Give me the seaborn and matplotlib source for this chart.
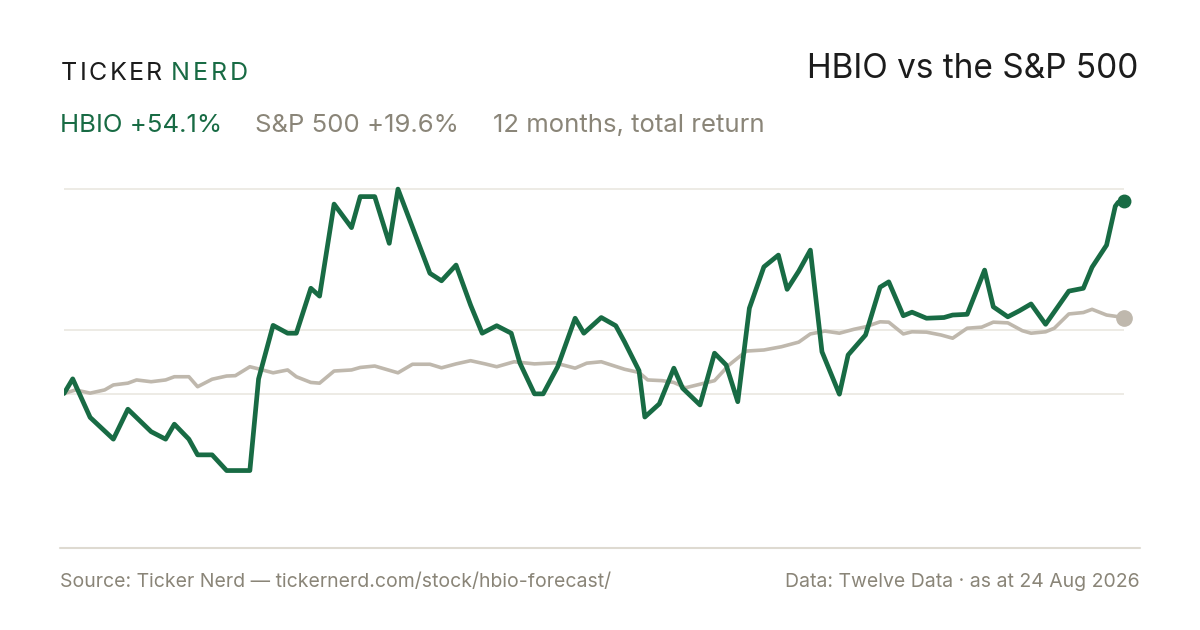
import pandas as pd
import matplotlib
matplotlib.use('Agg')
import matplotlib.pyplot as plt
from matplotlib.lines import Line2D
import seaborn as sns

# 12 month total return (%); x = days since start
start = pd.Timestamp('2025-08-24')

hbio_days = [0, 3, 9, 17, 22, 30, 35, 38, 43, 46, 51, 56, 64, 67, 72, 77, 80, 85, 88, 93,
             99, 102, 107, 112, 115, 126, 130, 135, 140, 144, 149, 154, 157, 162, 165, 170,
             176, 179, 185, 190, 193, 198, 200, 205, 210, 213, 219, 224, 228, 232, 236, 241,
             246, 249, 253, 257, 261, 267, 270, 276, 281, 284, 289, 292, 297, 303, 306, 311,
             317, 320, 325, 329, 333, 338, 346, 351, 354, 359, 362, 363, 365]
hbio_ret = [0.0, 4.1, -6.7, -12.8, -4.4, -10.7, -12.8, -8.6, -12.8, -17.2, -17.2, -21.6, -21.6,
            4.1, 19.1, 16.9, 16.9, 29.5, 27.3, 53.1, 46.5, 55.2, 55.2, 42.1, 57.3, 33.7, 31.6,
            36.0, 24.8, 16.9, 19.0, 16.9, 8.5, -0.1, -0.1, 7.5, 21.1, 16.9, 21.3, 19.0, 14.5,
            6.4, -6.6, -2.9, 7.1, 1.5, -3.2, 11.3, 8.0, -2.3, 23.9, 35.5, 38.8, 29.2, 34.3,
            40.2, 11.7, -0.2, 10.8, 16.4, 29.8, 31.3, 21.8, 22.8, 21.1, 21.3, 22.0, 22.2, 34.6,
            24.3, 21.5, 23.2, 25.1, 19.4, 28.7, 29.5, 35.4, 41.6, 52.5, 53.6, 54.1]

spx_days = [0, 4, 9, 14, 17, 22, 25, 30, 35, 38, 43, 46, 51, 56, 59, 64, 67, 72, 77, 80, 85,
            88, 93, 99, 102, 107, 115, 120, 126, 130, 135, 140, 145, 149, 155, 162, 169, 176,
            180, 185, 193, 198, 201, 206, 210, 214, 219, 224, 229, 235, 241, 247, 253, 257,
            262, 267, 272, 276, 281, 284, 289, 292, 297, 302, 306, 311, 316, 320, 325, 330,
            333, 338, 341, 346, 351, 354, 359, 365]
spx_ret = [0.0, 1.0, 0.1, 1.0, 2.4, 2.9, 3.8, 3.3, 3.8, 4.7, 4.7, 1.9, 4.0, 4.9, 5.0, 7.5,
           6.9, 5.8, 6.6, 4.7, 3.1, 2.9, 6.3, 6.6, 7.3, 7.7, 5.8, 8.2, 8.2, 7.2, 8.3, 9.2, 8.3,
           7.5, 8.9, 8.3, 8.6, 7.1, 8.5, 8.9, 6.8, 5.9, 3.8, 3.6, 3.1, 1.6, 2.6, 3.6, 8.0,
           11.9, 12.2, 13.1, 14.4, 16.7, 17.5, 16.9, 18.0, 18.7, 20.1, 20.0, 16.7, 17.3, 17.2,
           16.4, 15.5, 18.3, 18.6, 20.0, 19.8, 17.6, 16.9, 17.3, 18.3, 22.3, 22.7, 23.6, 22.0,
           21.3]

hbio_label = 'HBIO +54.1%'
spx_label = 'S&P 500 +19.6%'
period_label = '12 months, total return'
title = 'HBIO vs the S&P 500'
source = 'Source: Ticker Nerd \u2014 tickernerd.com/stock/hbio-forecast/'
data_note = 'Data: Twelve Data \u00b7 as at 24 Aug 2026'

GREEN = '#186b44'
TAUPE = '#bfb8ad'
TAUPE_TXT = '#8a8578'
GRID = '#ece9e3'
INK = '#1c1c1c'

df_hbio = pd.DataFrame({'date': start + pd.to_timedelta(hbio_days, unit='D'), 'ret': hbio_ret})
df_spx = pd.DataFrame({'date': start + pd.to_timedelta(spx_days, unit='D'), 'ret': spx_ret})

sns.set_theme(style='white')
plt.rcParams['font.family'] = ['Inter', 'DejaVu Sans']

W, H = 1200, 630
fig = plt.figure(figsize=(12, 6.3), dpi=100)
fig.patch.set_facecolor('white')


def fx(x):
    return x / W


def fy(y):
    return 1 - y / H


# axes placed in pixels: x 64..1124, y 180..548
ax = fig.add_axes([fx(64), fy(548), fx(1124) - fx(64), (548 - 180) / H])
ax.set_facecolor('none')

# gridlines at max, mid and zero
hi, lo = max(hbio_ret), min(hbio_ret)
for v in [hi, (hi + lo) / 2, 0]:
    ax.axhline(v, color=GRID, lw=1.3, zorder=0)

sns.lineplot(data=df_spx, x='date', y='ret', color=TAUPE, lw=2.6, ax=ax, zorder=2)
sns.lineplot(data=df_hbio, x='date', y='ret', color=GREEN, lw=3.4, ax=ax, zorder=3)
ax.plot(df_spx['date'].iloc[-1], df_spx['ret'].iloc[-1], 'o', color=TAUPE, ms=11, zorder=4, clip_on=False)
ax.plot(df_hbio['date'].iloc[-1], df_hbio['ret'].iloc[-1], 'o', color=GREEN, ms=9, zorder=5, clip_on=False)

ax.set_xlim(df_hbio['date'].iloc[0], df_hbio['date'].iloc[-1])
px_per = 3.567
ax.set_ylim((393.5 - 548) / px_per, (393.5 - 180) / px_per)
ax.set_xticks([])
ax.set_yticks([])
ax.set_xlabel('')
ax.set_ylabel('')
sns.despine(ax=ax, left=True, bottom=True)

# bottom rule
fig.add_artist(Line2D([fx(60), fx(1140)], [fy(548), fy(548)], color='#dedad1', lw=1.5))

# header
fig.canvas.draw()
rend = fig.canvas.get_renderer()


def spaced(s, x0, x1, y, color, size):
    arts = [fig.text(0, 0, ch, fontsize=size, color=color, va='baseline') for ch in s]
    widths = [a.get_window_extent(rend).width for a in arts]
    gap = ((x1 - x0) - sum(widths)) / max(len(s) - 1, 1)
    x = x0
    for a, w in zip(arts, widths):
        a.set_position((fx(x), fy(y)))
        x += w + gap


spaced('TICKER', 61, 162, 80, INK, 18)
spaced('NERD', 171, 248, 80, GREEN, 18)

fig.text(fx(1138), fy(78), title, ha='right', va='baseline', fontsize=24, color=INK)

fig.text(fx(60), fy(132), hbio_label, fontsize=18.5, color=GREEN, va='baseline')
fig.text(fx(255), fy(132), spx_label, fontsize=18.5, color=TAUPE_TXT, va='baseline')
fig.text(fx(493), fy(132), period_label, fontsize=18.5, color=TAUPE_TXT, va='baseline')

fig.text(fx(60), fy(587), source, fontsize=14, color=TAUPE_TXT, va='baseline')
fig.text(fx(1140), fy(587), data_note, fontsize=14, color=TAUPE_TXT, va='baseline', ha='right')

fig.savefig('out.png', dpi=100, facecolor='white')
